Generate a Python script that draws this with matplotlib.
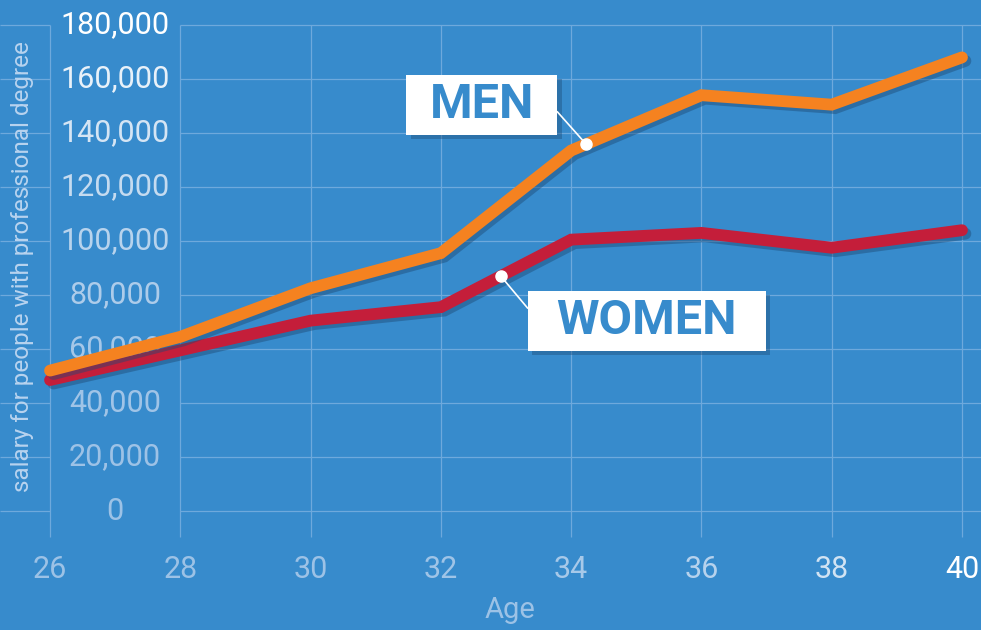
import numpy as np
import matplotlib
matplotlib.use("Agg")
import matplotlib.pyplot as plt
import matplotlib.patheffects as pe
from matplotlib.patches import Rectangle
from matplotlib.colors import to_rgb

# data
ages = [26, 28, 30, 32, 34, 36, 38, 40]
men = [52000, 64500, 82500, 95500, 133500, 154000, 150500, 168000]
women = [48500, 59500, 70500, 75500, 100500, 103000, 97500, 104000]
y_ticks = [0, 20000, 40000, 60000, 80000, 100000, 120000, 140000, 160000, 180000]

BG = "#378bcc"
GRID = "#6ea9dc"
FADED = "#9cc2e6"
ORANGE = "#f58220"
RED = "#c41e3a"

plt.rcParams['font.family'] = ['Roboto', 'DejaVu Sans']

fig = plt.figure(figsize=(9.81, 6.30), dpi=100)
fig.patch.set_facecolor(BG)
ax = fig.add_axes([0, 0, 1, 1])
ax.set_facecolor(BG)
ax.set_xlim(25.232, 40.292)
ax.set_ylim(-44074, 189259)
ax.axis('off')


def blend(t):
    # fade from light blue (t=0) to white (t=1)
    a = np.array(to_rgb(FADED))
    b = np.array([1.0, 1.0, 1.0])
    return tuple(a + (b - a) * t)


# grid: vertical lines run a bit below zero, horizontal lines skip the label column
ax.vlines(ages, -9630, 180000, color=GRID, lw=0.9, zorder=1)
ax.hlines(y_ticks, 25.232, 26, color=GRID, lw=0.9, zorder=1)
ax.hlines(y_ticks, 28, 40.292, color=GRID, lw=0.9, zorder=1)

# y tick labels sit in the column between 26 and 28
for v in y_ticks:
    t = (v / 180000) ** 2.2
    ax.text(27, v, f"{v:,}", ha='center', va='center', fontsize=22,
            color=blend(t), zorder=2)

for a in ages:
    t = ((a - 26) / 14) ** 4
    ax.text(a, -21850, str(a), ha='center', va='center', fontsize=22,
            color=blend(t), zorder=2)

ax.text(33.06, -36700, "Age", ha='center', va='center', fontsize=21,
        color=FADED)
ax.text(25.57, 90500, "salary for people with professional degree", rotation=90,
        ha='center', va='center', fontsize=17.5, color="#b8d3ef")

shadow = [pe.SimpleLineShadow(offset=(2.5, -2.5), shadow_color="#1d4a75", alpha=0.45),
          pe.Normal()]
ax.plot(ages, women, color=RED, lw=8.5, solid_capstyle='round',
        solid_joinstyle='miter', path_effects=shadow, zorder=4)
ax.plot(ages, men, color=ORANGE, lw=8.5, solid_capstyle='round',
        solid_joinstyle='miter', path_effects=shadow, zorder=5)

# callouts
box_shadow = [pe.SimplePatchShadow(offset=(3, -3), shadow_rgbFace="#1d4a75", alpha=0.4),
              pe.Normal()]
callouts = [
    # label, box centre (age, salary), box width, dot age, series, leader end, font size
    ("MEN", (32.63, 150400), 2.318, 34.23, men, (33.79, 147800), 35),
    ("WOMEN", (35.16, 70400), 3.654, 32.92, women, (33.33, 75200), 35),
]
for label, (cx, cy), w, dot_x, series, lead, fs in callouts:
    h = 22222
    ax.add_patch(Rectangle((cx - w / 2, cy - h / 2), w, h, facecolor='white',
                           edgecolor='none', path_effects=box_shadow, zorder=6))
    ax.text(cx, cy, label, ha='center', va='center', fontsize=fs,
            fontweight='bold', color=BG, zorder=7)
    dot_y = np.interp(dot_x, ages, series)
    ax.plot([dot_x, lead[0]], [dot_y, lead[1]], color='white', lw=1.2, zorder=6)
    ax.plot(dot_x, dot_y, 'o', color='white', ms=8, zorder=7)

fig.savefig("out.png", dpi=100, facecolor=BG)
